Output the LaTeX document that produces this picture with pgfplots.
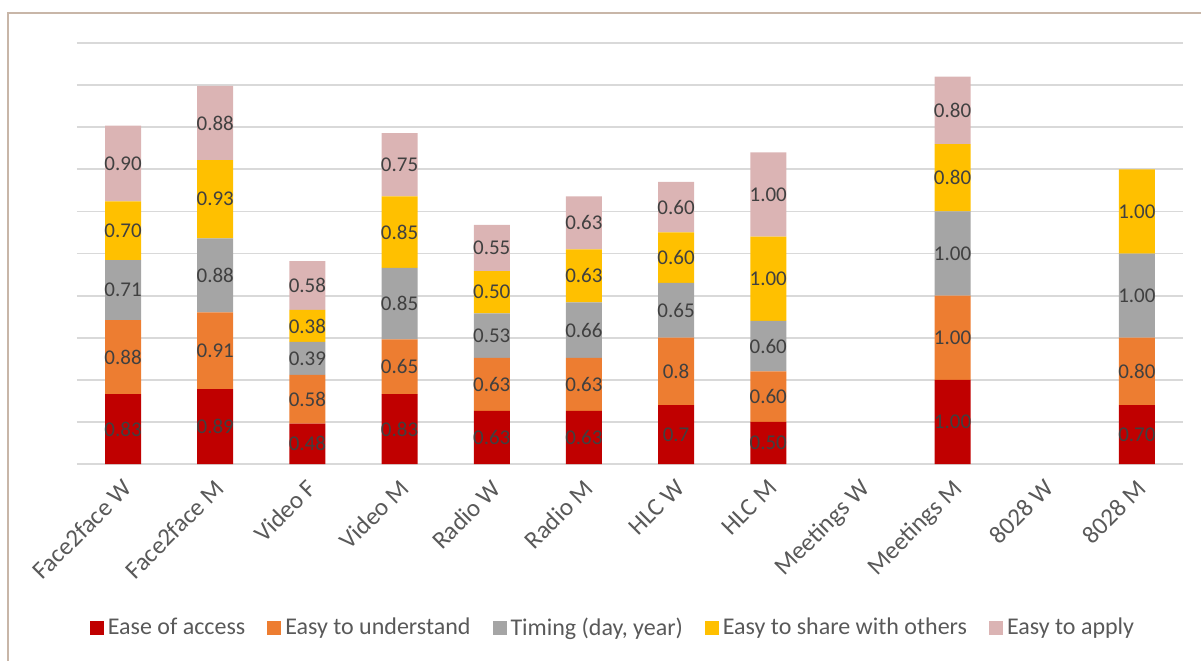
\documentclass[border=0pt]{standalone}
\usepackage{fontspec}
\setmainfont{Carlito}
\usepackage{pgfplots}
\pgfplotsset{compat=1.18}

\definecolor{accessred}{HTML}{C00000}
\definecolor{understandorange}{HTML}{ED7D31}
\definecolor{timinggray}{HTML}{A5A5A5}
\definecolor{sharegold}{HTML}{FFC000}
\definecolor{applypink}{HTML}{DBB4B4}
\definecolor{gridgray}{HTML}{D9D9D9}
\definecolor{labeltext}{HTML}{404040}
\definecolor{axistext}{HTML}{595959}
\definecolor{framecol}{HTML}{C8B6A8}

\newcommand{\catfont}{\fontsize{12.5}{15}\selectfont}

\pgfplotsset{
  segment/.style={fill=#1, draw=none, area legend,
    legend image code/.code={\fill[#1] (0pt,-3.5pt) rectangle (7pt,3.5pt);}},
}

\begin{document}
\begin{tikzpicture}
\useasboundingbox (0,0) rectangle (600.5pt,330pt);
\draw[overlay, framecol, line width=1pt] (4pt,-20pt) -- (4pt,323.5pt) -- (620pt,323.5pt);
\begin{axis}[
  at={(38.5pt,98pt)}, anchor=south west,
  scale only axis, width=553pt, height=210.5pt,
  ybar stacked, bar width=18pt,
  xmin=-0.5, xmax=11.5, ymin=0, ymax=5,
  xtick={0,...,11},
  xticklabels={Face2face W, Face2face M, Video F, Video M, Radio W, Radio M,
    HLC W, HLC M, Meetings W, Meetings M, 8028 W, 8028 M},
  ytick={0,0.5,...,5}, yticklabels={},
  ymajorgrids, major grid style={gridgray, line width=0.9pt},
  axis line style={draw=none}, major tick style={draw=none},
  xticklabel style={rotate=45, anchor=north east, xshift=-5.3pt, yshift=-4.2pt,
    font=\catfont, text=axistext, inner sep=0pt},
  point meta=explicit symbolic,
  visualization depends on={rawy \as \segh},
  nodes near coords={\ifdim\segh pt>0pt \pgfplotspointmeta\fi},
  every node near coord/.append style={anchor=center, font=\fontsize{10.5}{12}\selectfont, text=labeltext},
  legend columns=-1,
  legend style={at={(0.4855,-0.3895)}, anchor=center, draw=none, fill=none, font=\fontsize{12}{14}\selectfont, text=axistext, /tikz/every even column/.append style={column sep=9pt}},
]
% Ease of access
\addplot[segment=accessred] coordinates {
  (0,0.83)[0.83] (1,0.89)[0.89] (2,0.48)[0.48] (3,0.83)[0.83] (4,0.63)[0.63] (5,0.63)[0.63]
  (6,0.7)[0.7] (7,0.50)[0.50] (8,0)[0] (9,1.00)[1.00] (10,0)[0] (11,0.70)[0.70]};
\addlegendentry{Ease of access}
% Easy to understand
\addplot[segment=understandorange] coordinates {
  (0,0.88)[0.88] (1,0.91)[0.91] (2,0.58)[0.58] (3,0.65)[0.65] (4,0.63)[0.63] (5,0.63)[0.63]
  (6,0.8)[0.8] (7,0.60)[0.60] (8,0)[0] (9,1.00)[1.00] (10,0)[0] (11,0.80)[0.80]};
\addlegendentry{Easy to understand}
% Timing (day, year)
\addplot[segment=timinggray] coordinates {
  (0,0.71)[0.71] (1,0.88)[0.88] (2,0.39)[0.39] (3,0.85)[0.85] (4,0.53)[0.53] (5,0.66)[0.66]
  (6,0.65)[0.65] (7,0.60)[0.60] (8,0)[0] (9,1.00)[1.00] (10,0)[0] (11,1.00)[1.00]};
\addlegendentry{Timing (day, year)}
% Easy to share with others
\addplot[segment=sharegold] coordinates {
  (0,0.70)[0.70] (1,0.93)[0.93] (2,0.38)[0.38] (3,0.85)[0.85] (4,0.50)[0.50] (5,0.63)[0.63]
  (6,0.60)[0.60] (7,1.00)[1.00] (8,0)[0] (9,0.80)[0.80] (10,0)[0] (11,1.00)[1.00]};
\addlegendentry{Easy to share with others}
% Easy to apply
\addplot[segment=applypink] coordinates {
  (0,0.90)[0.90] (1,0.88)[0.88] (2,0.58)[0.58] (3,0.75)[0.75] (4,0.55)[0.55] (5,0.63)[0.63]
  (6,0.60)[0.60] (7,1.00)[1.00] (8,0)[0] (9,0.80)[0.80] (10,0)[0] (11,0)[0]};
\addlegendentry{Easy to apply}
\end{axis}
\end{tikzpicture}
\end{document}
